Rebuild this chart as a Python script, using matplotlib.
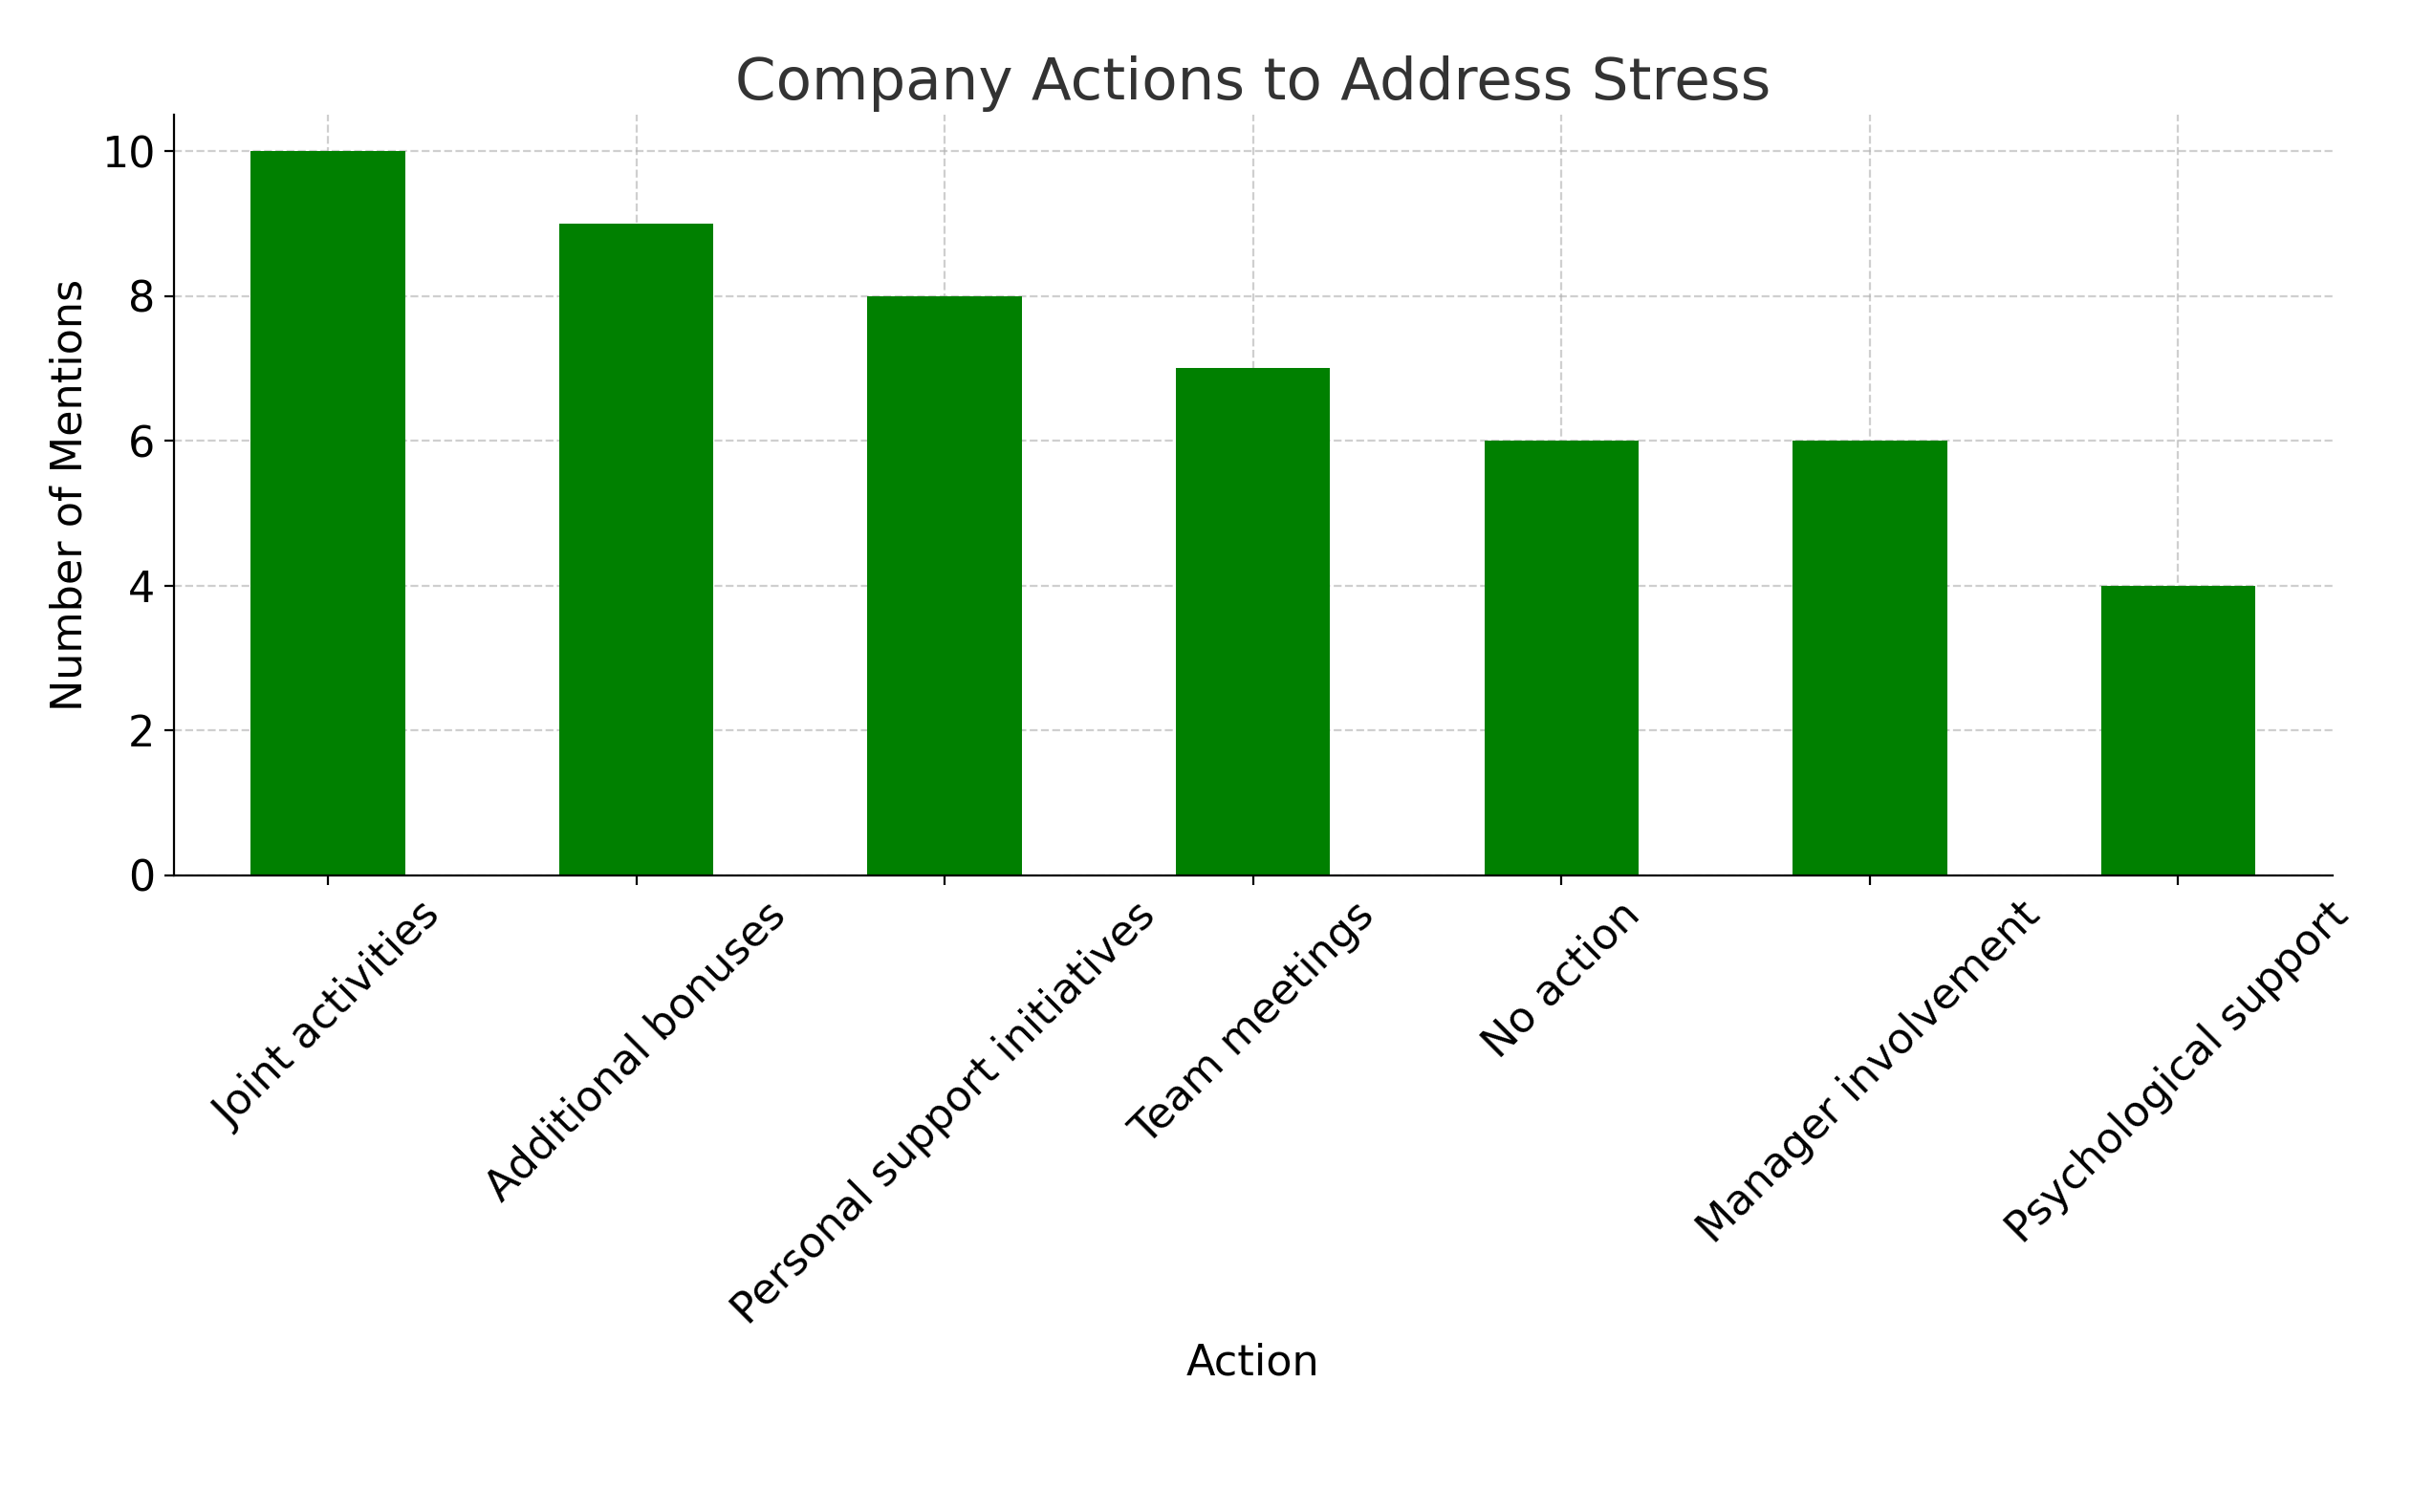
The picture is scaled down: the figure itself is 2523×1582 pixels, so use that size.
import matplotlib.pyplot as plt

actions = ['Joint activities', 'Additional bonuses', 'Personal support initiatives',
           'Team meetings', 'No action', 'Manager involvement', 'Psychological support']
mentions = [10, 9, 8, 7, 6, 6, 4]

fig = plt.figure(figsize=(12.615, 7.91), dpi=200)
ax = fig.add_axes([0.072, 0.421, 0.895, 0.503])
ax.bar(actions, mentions, width=0.5, color='green', zorder=2)

ax.set_title('Company Actions to Address Stress', fontsize=22, color='#333333')
ax.set_xlabel('Action', fontsize=16)
ax.set_ylabel('Number of Mentions', fontsize=16)
ax.tick_params(axis='both', labelsize=16)
plt.setp(ax.get_xticklabels(), rotation=45)
ax.set_ylim(0, 10.5)
ax.set_xlim(-0.5, 6.5)
ax.grid(True, linestyle='--', alpha=0.6, zorder=3)
ax.spines['top'].set_visible(False)
ax.spines['right'].set_visible(False)

fig.savefig('out.png', dpi=200)
